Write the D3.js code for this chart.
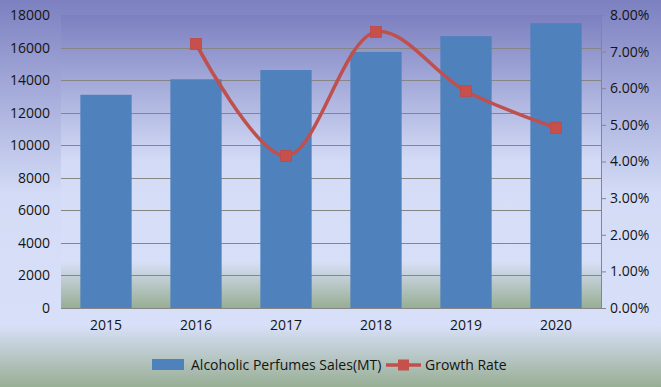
<!DOCTYPE html>
<html>
<head>
<meta charset="utf-8">
<script src="https://cdn.jsdelivr.net/npm/d3@7/dist/d3.min.js"></script>
<style>
  body { margin: 0; }
  svg { display: block; font-family: "Open Sans", "Liberation Sans", sans-serif; }
</style>
</head>
<body>
<div id="chart"></div>
<script>
var years = ["2015", "2016", "2017", "2018", "2019", "2020"];
var sales = [13100, 14050, 14620, 15730, 16700, 17500];
var growthYears = ["2016", "2017", "2018", "2019", "2020"];
var growth = [0.0721, 0.0415, 0.0754, 0.0592, 0.0492];
var leftTicks = [0, 2000, 4000, 6000, 8000, 10000, 12000, 14000, 16000, 18000];
var rightTicks = [0, 0.01, 0.02, 0.03, 0.04, 0.05, 0.06, 0.07, 0.08];

var width = 661, height = 387;
var margin = {top: 15, right: 60, bottom: 79, left: 61};
var plotW = width - margin.left - margin.right;
var plotH = height - margin.top - margin.bottom;
var fontSize = "14px";
var textColor = "#141414";

var svg = d3.select("#chart")
    .append("svg")
    .attr("width", width)
    .attr("height", height);

var defs = svg.append("defs");
function gradient(id) {
    var g = defs.append("linearGradient")
        .attr("id", id)
        .attr("x1", 0).attr("y1", 0).attr("x2", 0).attr("y2", 1);
    g.append("stop").attr("offset", "0%").attr("stop-color", "#7c80c0");
    g.append("stop").attr("offset", "50%").attr("stop-color", "#d3dbf6");
    g.append("stop").attr("offset", "84%").attr("stop-color", "#d8e0f9");
    g.append("stop").attr("offset", "100%").attr("stop-color", "#98ae94");
}
gradient("bgGrad");
gradient("plotGrad");

svg.append("rect")
    .attr("width", width)
    .attr("height", height)
    .attr("fill", "url(#bgGrad)");

var g = svg.append("g")
    .attr("transform", "translate(" + margin.left + "," + margin.top + ")");

g.append("rect")
    .attr("width", plotW)
    .attr("height", plotH)
    .attr("fill", "url(#plotGrad)");

var x = d3.scaleBand()
    .domain(years)
    .range([0, plotW])
    .paddingInner(0.43)
    .paddingOuter(0.215);

var xCenter = function(d) { return x(d) + x.bandwidth() / 2; };

var y = d3.scaleLinear()
    .domain([0, 18000])
    .range([plotH, 0]);

var y2 = d3.scaleLinear()
    .domain([0, 0.08])
    .range([plotH, 0]);

// gridlines
g.selectAll(".grid")
    .data(leftTicks.slice(1))
    .enter()
    .append("line")
    .attr("x1", 0)
    .attr("x2", plotW)
    .attr("y1", function(d) { return Math.round(y(d)) + 0.5; })
    .attr("y2", function(d) { return Math.round(y(d)) + 0.5; })
    .attr("stroke", "#868686")
    .attr("stroke-width", 1);

// bars
g.selectAll(".bar")
    .data(sales)
    .enter()
    .append("rect")
    .attr("x", function(d, i) { return x(years[i]); })
    .attr("y", function(d) { return y(d); })
    .attr("width", x.bandwidth())
    .attr("height", function(d) { return plotH - y(d); })
    .attr("fill", "#4f81bd");

// x axis line
g.append("line")
    .attr("x1", 0).attr("x2", plotW)
    .attr("y1", plotH + 0.5).attr("y2", plotH + 0.5)
    .attr("stroke", "#868686");

// left axis labels
var leftAxis = g.append("g")
    .call(d3.axisLeft(y).tickValues(leftTicks).tickSize(0).tickPadding(11).tickFormat(d3.format("d")));
leftAxis.select(".domain").remove();
leftAxis.selectAll("text")
    .attr("font-size", fontSize)
    .attr("font-family", "Open Sans, Liberation Sans, sans-serif")
    .attr("fill", textColor);

// right axis
var rightAxis = g.append("g")
    .attr("transform", "translate(" + plotW + ",0)")
    .call(d3.axisRight(y2).tickValues(rightTicks).tickSize(5).tickSizeOuter(0).tickPadding(4).tickFormat(d3.format(".2%")));
rightAxis.select(".domain").attr("stroke", "#868686");
rightAxis.selectAll(".tick line").attr("stroke", "#868686");
rightAxis.selectAll("text")
    .attr("font-size", fontSize)
    .attr("font-family", "Open Sans, Liberation Sans, sans-serif")
    .attr("fill", textColor);

// bottom axis labels
var bottomAxis = g.append("g")
    .attr("transform", "translate(0," + plotH + ")")
    .call(d3.axisBottom(x).tickSize(0).tickPadding(12));
bottomAxis.select(".domain").remove();
bottomAxis.selectAll("text")
    .attr("font-size", fontSize)
    .attr("font-family", "Open Sans, Liberation Sans, sans-serif")
    .attr("fill", textColor);

// growth line
var line = d3.line()
    .x(function(d, i) { return xCenter(growthYears[i]); })
    .y(function(d) { return y2(d); })
    .curve(d3.curveCatmullRom.alpha(0.5));

g.append("path")
    .datum(growth)
    .attr("d", line)
    .attr("fill", "none")
    .attr("stroke", "#c0504d")
    .attr("stroke-width", 3.5);

g.selectAll(".marker")
    .data(growth)
    .enter()
    .append("rect")
    .attr("x", function(d, i) { return xCenter(growthYears[i]) - 5.5; })
    .attr("y", function(d) { return y2(d) - 5.5; })
    .attr("width", 11)
    .attr("height", 11)
    .attr("fill", "#c8504c")
    .attr("stroke", "#bc4b48")
    .attr("stroke-width", 0.8);

// legend
var legend = svg.append("g")
    .attr("transform", "translate(152,365)");

legend.append("rect")
    .attr("x", 0).attr("y", -6)
    .attr("width", 32).attr("height", 11)
    .attr("fill", "#4f81bd");

legend.append("text")
    .attr("x", 39).attr("y", 5)
    .attr("font-size", fontSize)
    .attr("fill", textColor)
    .text("Alcoholic Perfumes Sales(MT)");

legend.append("line")
    .attr("x1", 234).attr("x2", 269)
    .attr("y1", 0).attr("y2", 0)
    .attr("stroke", "#c0504d")
    .attr("stroke-width", 3.5);

legend.append("rect")
    .attr("x", 246).attr("y", -5.5)
    .attr("width", 11).attr("height", 11)
    .attr("fill", "#c8504c");

legend.append("text")
    .attr("x", 273).attr("y", 5)
    .attr("font-size", fontSize)
    .attr("fill", textColor)
    .text("Growth Rate");
</script>
</body>
</html>
